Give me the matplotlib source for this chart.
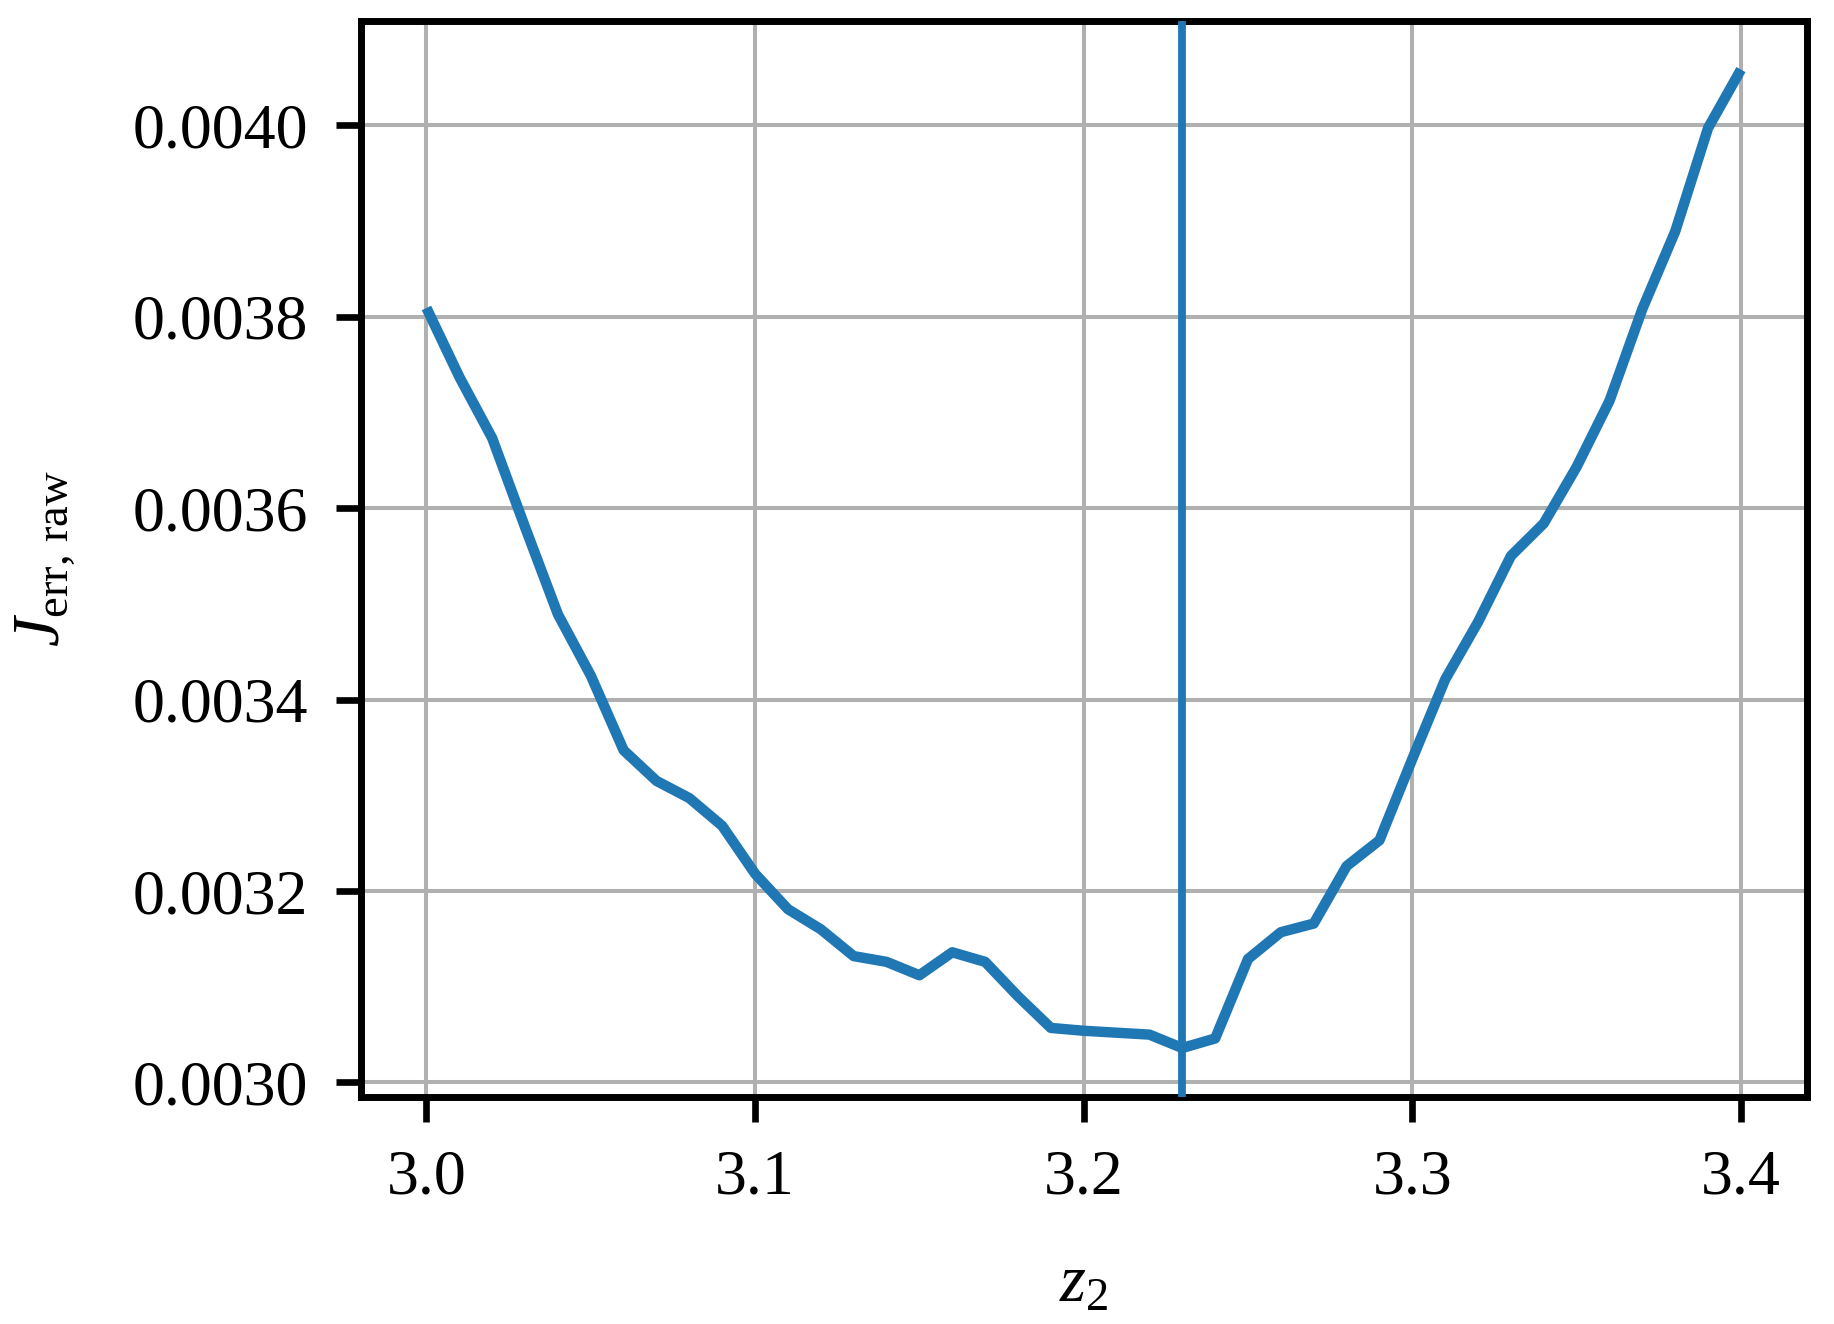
import matplotlib
matplotlib.use("Agg")
import matplotlib.pyplot as plt
from matplotlib.ticker import FormatStrFormatter, FixedLocator
import numpy as np

z2 = [3.00, 3.01, 3.02, 3.03, 3.04, 3.05, 3.06, 3.07, 3.08, 3.09,
      3.10, 3.11, 3.12, 3.13, 3.14, 3.15, 3.16, 3.17, 3.18, 3.19,
      3.20, 3.21, 3.22, 3.23, 3.24, 3.25, 3.26, 3.27, 3.28, 3.29,
      3.30, 3.31, 3.32, 3.33, 3.34, 3.35, 3.36, 3.37, 3.38, 3.39, 3.40]
j_err_raw = [0.003809, 0.003737, 0.003673, 0.003580, 0.003489, 0.003425, 0.003347,
             0.003315, 0.003297, 0.003268, 0.003218, 0.003181, 0.003160, 0.003132,
             0.003126, 0.003112, 0.003136, 0.003126, 0.003090, 0.003057, 0.003054,
             0.003052, 0.003050, 0.003036, 0.003046, 0.003129, 0.003157, 0.003166,
             0.003226, 0.003253, 0.003338, 0.003421, 0.003481, 0.003550, 0.003584,
             0.003643, 0.003712, 0.003808, 0.003889, 0.003997, 0.004058]
x_ticks = [3.0, 3.1, 3.2, 3.3, 3.4]
y_ticks = [0.0030, 0.0032, 0.0034, 0.0036, 0.0038, 0.0040]

plt.rcParams['font.family'] = ['Liberation Serif', 'DejaVu Serif']
plt.rcParams['mathtext.fontset'] = 'custom'
plt.rcParams['mathtext.rm'] = 'Liberation Serif'
plt.rcParams['mathtext.it'] = 'Liberation Serif:italic'
plt.rcParams['mathtext.bf'] = 'Liberation Serif:bold'

DPI = 100
fig = plt.figure(figsize=(18.34, 13.24), dpi=DPI)
ax = fig.add_axes([0.1967, 0.1715, 0.7884, 0.8129])

color = '#1f77b4'
ax.plot(z2, j_err_raw, color=color, lw=7.5, solid_capstyle='butt', zorder=3)
zmin = z2[int(np.argmin(j_err_raw))]
ax.axvline(zmin, color=color, lw=5.6, zorder=3)

ax.xaxis.set_major_locator(FixedLocator(x_ticks))
ax.yaxis.set_major_locator(FixedLocator(y_ticks))
ax.xaxis.set_major_formatter(FormatStrFormatter('%.1f'))
ax.yaxis.set_major_formatter(FormatStrFormatter('%.4f'))

ax.grid(True, color='#b0b0b0', lw=2.9, zorder=0)
ax.set_axisbelow(True)
for s in ax.spines.values():
    s.set_linewidth(5.0)
    s.set_color('black')
ax.tick_params(axis='both', which='major', length=18, width=4.8, pad=20,
               labelsize=46, color='black', labelcolor='black')

ax.set_xlabel(r'$z_2$', fontsize=48)
ax.set_ylabel(r'$J_{\mathrm{err,\,raw}}$', fontsize=48)
ax.xaxis.set_label_coords(0.5, -0.1747)
ax.xaxis.label.set_va('center')
ax.yaxis.set_label_coords(-0.2183, 0.5)
ax.yaxis.label.set_va('center')

fig.savefig('out.png', dpi=DPI)
